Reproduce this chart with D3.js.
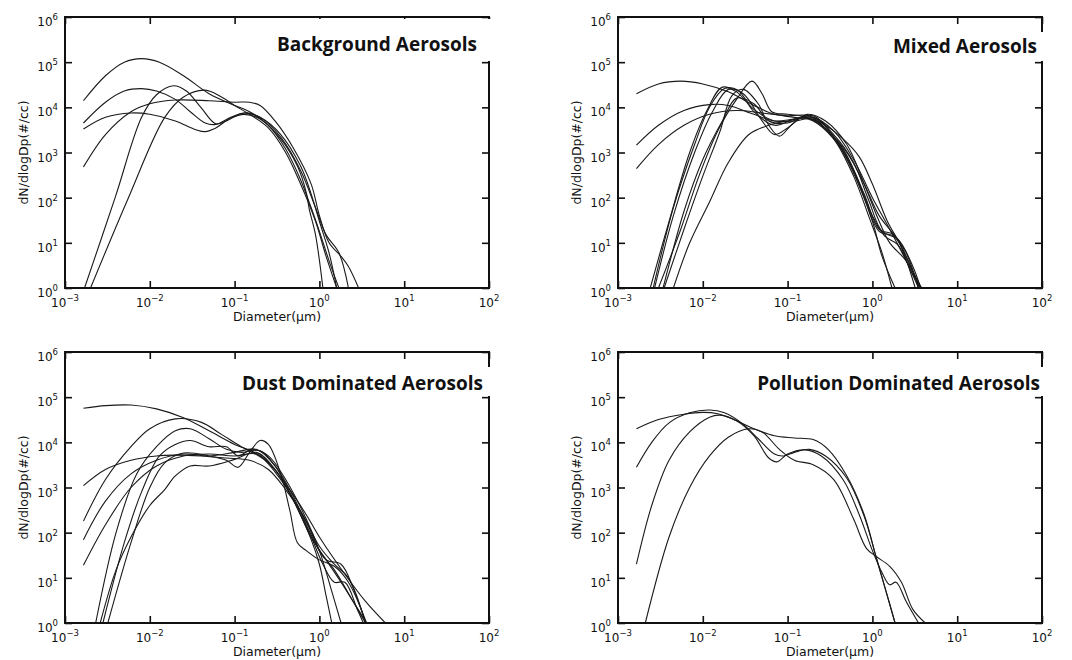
<!DOCTYPE html>
<html>
<head>
<meta charset="utf-8">
<script src="https://cdn.jsdelivr.net/npm/d3@7"></script>
<style>
body { margin: 0; background: #fff; }
svg { display: block; }
</style>
</head>
<body>
<svg width="1072" height="660"></svg>
<script>
// panel titles
var titles = ['Background Aerosols', 'Mixed Aerosols', 'Dust Dominated Aerosols', 'Pollution Dominated Aerosols'];

// tick exponents
var xExp = [-3, -2, -1, 0, 1, 2];
var yExp = [0, 1, 2, 3, 4, 5, 6];

// size distributions, [diameter um, dN/dlogDp]
var background = [
  [[0.00165,1.4e4],[0.003,5e4],[0.005,1e5],[0.008,1.2e5],[0.013,1e5],[0.025,5e4],[0.05,2e4],[0.1,1.1e4],[0.15,8e3],[0.25,4e3],[0.4,1.2e3],[0.6,250],[0.8,60],[1.0,18],[1.3,4],[1.7,1]],
  [[0.00165,4.5e3],[0.003,1.3e4],[0.005,2.3e4],[0.008,2.6e4],[0.012,2.3e4],[0.02,1.5e4],[0.03,8e3],[0.045,4.5e3],[0.06,4.2e3],[0.09,6e3],[0.13,7.5e3],[0.2,6e3],[0.35,2.5e3],[0.6,500],[0.8,120],[1.0,30],[1.3,6],[1.6,1]],
  [[0.00165,3.3e3],[0.003,6e3],[0.006,7.5e3],[0.01,7e3],[0.02,5e3],[0.035,3.2e3],[0.045,2.9e3],[0.06,3.5e3],[0.09,5.8e3],[0.13,7e3],[0.2,5.5e3],[0.35,2e3],[0.55,500],[0.7,130],[0.76,55],[0.9,15],[1.1,1]],
  [[0.00165,480],[0.003,2.5e3],[0.006,8e3],[0.01,1.2e4],[0.02,1.45e4],[0.05,1.4e4],[0.1,1.3e4],[0.15,1.3e4],[0.2,1.1e4],[0.3,5e3],[0.5,1.2e3],[0.8,200],[1.0,40],[1.3,10],[1.8,5],[2.2,3],[2.9,1]],
  [[0.0017,1],[0.0039,100],[0.008,6e3],[0.012,1.9e4],[0.019,3e4],[0.027,2.3e4],[0.04,1e4],[0.06,4.3e3],[0.08,5e3],[0.13,7.5e3],[0.2,6e3],[0.35,2.2e3],[0.6,400],[0.9,60],[1.2,15],[1.7,6],[2.2,1]],
  [[0.0020,1],[0.0056,100],[0.015,6e3],[0.025,1.7e4],[0.045,2.4e4],[0.07,1.7e4],[0.1,1.1e4],[0.15,7e3],[0.25,3.5e3],[0.4,1e3],[0.6,200],[0.9,30],[1.2,5],[1.6,1]]
];

var mixed = [
  [[0.00165,2e4],[0.003,3.3e4],[0.0055,3.8e4],[0.01,3.3e4],[0.02,2.2e4],[0.04,1.1e4],[0.07,7e3],[0.12,6e3],[0.2,5e3],[0.35,2e3],[0.6,400],[1.0,40],[1.4,14],[2,9],[3,2],[3.8,1]],
  [[0.00165,1.45e3],[0.003,4e3],[0.006,8.5e3],[0.012,1.15e4],[0.02,1.1e4],[0.04,7e3],[0.07,5e3],[0.12,5.5e3],[0.2,6e3],[0.35,2.5e3],[0.6,600],[0.9,90],[1.3,18],[2,12],[3,3],[3.7,1]],
  [[0.00165,440],[0.003,1.5e3],[0.006,4e3],[0.012,7e3],[0.025,8.5e3],[0.05,7.5e3],[0.1,6.5e3],[0.18,6.5e3],[0.3,3e3],[0.5,1e3],[0.8,200],[1.2,40],[1.8,15],[2.5,6],[3.5,1]],
  [[0.0024,1],[0.004,30],[0.007,1e3],[0.011,8e3],[0.017,2.8e4],[0.025,2.2e4],[0.04,9e3],[0.07,5e3],[0.12,5e3],[0.2,5.5e3],[0.35,2e3],[0.6,300],[0.9,40],[1.3,6],[1.7,1]],
  [[0.0027,1],[0.0045,40],[0.008,1e3],[0.013,8e3],[0.02,2.5e4],[0.03,2e4],[0.05,5e3],[0.07,2.5e3],[0.1,3.5e3],[0.15,6e3],[0.25,4e3],[0.45,1.2e3],[0.8,120],[1.2,20],[1.8,15],[2.5,5],[3.6,1]],
  [[0.003,1],[0.0055,20],[0.009,300],[0.015,3e3],[0.025,1.5e4],[0.038,3.8e4],[0.05,2e4],[0.065,8e3],[0.1,7e3],[0.17,6e3],[0.3,3e3],[0.5,800],[0.8,100],[1.2,18],[1.8,14],[2.5,5],[3.6,1]],
  [[0.0035,1],[0.006,20],[0.01,300],[0.016,3e3],[0.022,1.8e4],[0.03,2.5e4],[0.045,1.2e4],[0.06,4e3],[0.08,2.3e3],[0.11,4e3],[0.17,7e3],[0.28,5e3],[0.5,1.5e3],[0.8,200],[1.2,30],[1.6,10],[2.5,4],[3.8,1]],
  [[0.0045,1],[0.007,10],[0.012,80],[0.02,600],[0.035,2.5e3],[0.06,4e3],[0.1,5e3],[0.2,6e3],[0.35,3e3],[0.6,700],[1,100],[1.6,20],[2.5,4],[3.5,1]],
  [[0.0034,1],[0.006,50],[0.01,700],[0.017,5e3],[0.025,1.6e4],[0.04,1.2e4],[0.06,5e3],[0.1,4.5e3],[0.15,6e3],[0.25,4.5e3],[0.45,2e3],[0.7,800],[1,200],[1.5,30],[2.2,8],[3.2,1]],
  [[0.0026,1],[0.0045,60],[0.008,1.5e3],[0.012,1e4],[0.018,2.6e4],[0.026,2.4e4],[0.04,8e3],[0.07,4e3],[0.12,5.5e3],[0.2,6.5e3],[0.35,2.2e3],[0.6,350],[1.0,30],[1.3,5],[1.85,1]]
];

var dust = [
  [[0.00165,5.7e4],[0.003,6.5e4],[0.006,6.7e4],[0.012,5.5e4],[0.025,3.5e4],[0.05,1.8e4],[0.1,9e3],[0.15,6.5e3],[0.25,3.5e3],[0.4,1.2e3],[0.7,250],[1.0,80],[2,12],[3.5,3],[6,1]],
  [[0.00165,180],[0.003,1.5e3],[0.006,8e3],[0.01,2e4],[0.02,3.3e4],[0.04,2.8e4],[0.07,1.5e4],[0.12,8e3],[0.2,5e3],[0.35,1.5e3],[0.6,300],[1.0,50],[1.5,20],[2.2,10],[3.5,1]],
  [[0.00165,70],[0.003,500],[0.006,2e3],[0.012,4e3],[0.025,5.5e3],[0.05,5e3],[0.1,6e3],[0.18,7e3],[0.3,3e3],[0.5,600],[0.8,90],[1.2,25],[1.8,20],[2.5,6],[3.5,1]],
  [[0.00165,19],[0.003,150],[0.006,1e3],[0.012,3e3],[0.025,5e3],[0.05,5.5e3],[0.1,5e3],[0.18,5.5e3],[0.3,2.5e3],[0.5,500],[0.8,80],[1.1,20],[1.5,8],[2,8],[2.8,2],[3.3,1]],
  [[0.00165,1.1e3],[0.003,2.5e3],[0.006,4e3],[0.012,5e3],[0.02,5.2e3],[0.04,5e3],[0.08,4.5e3],[0.15,4e3],[0.25,2.5e3],[0.4,900],[0.7,180],[1.0,40],[1.5,15],[2.5,3],[3.5,1]],
  [[0.0023,1],[0.004,100],[0.007,2e3],[0.012,8e3],[0.02,1.8e4],[0.03,2e4],[0.05,1.2e4],[0.08,7e3],[0.12,6e3],[0.2,6.5e3],[0.3,3e3],[0.5,500],[0.8,70],[1.0,20],[1.2,4],[1.4,1]],
  [[0.0028,1],[0.005,60],[0.008,800],[0.013,5e3],[0.02,9e3],[0.03,1.1e4],[0.05,8e3],[0.08,8e3],[0.11,5e3],[0.16,7e3],[0.25,5e3],[0.4,1.5e3],[0.7,200],[1.0,40],[1.4,5],[1.8,1]],
  [[0.0032,1],[0.006,60],[0.01,1e3],[0.015,3.5e3],[0.025,5.8e3],[0.05,5e3],[0.08,4e3],[0.11,2.8e3],[0.15,6e3],[0.2,1.1e4],[0.25,9e3],[0.35,2e3],[0.45,300],[0.55,60],[0.7,40],[1.0,25],[1.5,18],[2.2,8],[3.6,1]],
  [[0.0026,1],[0.004,15],[0.006,80],[0.01,400],[0.015,900],[0.02,1.8e3],[0.03,3e3],[0.05,3e3],[0.1,4.2e3],[0.18,6e3],[0.3,2.5e3],[0.5,500],[0.8,80],[1.2,25],[1.8,8],[2.5,3],[3.6,1]]
];

var pollution = [
  [[0.00165,2e4],[0.003,3.2e4],[0.006,4.2e4],[0.01,4.6e4],[0.015,4.3e4],[0.025,3e4],[0.04,2e4],[0.07,1.4e4],[0.12,1.25e4],[0.2,1.15e4],[0.3,7e3],[0.5,1.8e3],[0.8,250],[1.1,30],[1.5,4],[1.85,1]],
  [[0.00165,2.8e3],[0.0025,1e4],[0.004,2.7e4],[0.007,4.5e4],[0.012,5.2e4],[0.018,4.5e4],[0.03,2.5e4],[0.045,1.2e4],[0.07,5.5e3],[0.09,5e3],[0.12,6e3],[0.18,7e3],[0.28,5e3],[0.5,1.6e3],[0.8,230],[1.1,30],[1.5,4],[1.85,1]],
  [[0.00165,20],[0.0025,400],[0.004,4e3],[0.007,1.7e4],[0.012,3.6e4],[0.016,4e4],[0.025,3e4],[0.04,1.4e4],[0.06,4.5e3],[0.075,3.7e3],[0.1,5.5e3],[0.16,6.8e3],[0.25,5e3],[0.45,1.5e3],[0.7,250],[1.0,40],[1.3,13],[1.6,7],[1.9,8],[2.5,3],[3.5,1]],
  [[0.0021,1],[0.004,80],[0.007,1e3],[0.012,5e3],[0.02,1.3e4],[0.035,2e4],[0.05,1.7e4],[0.08,7e3],[0.12,4e3],[0.2,3.2e3],[0.35,1.5e3],[0.6,200],[0.85,45],[1.1,30],[1.6,18],[2.2,8],[3,2],[4.2,1]]
];

var panelData = [background, mixed, dust, pollution];
var panelPos = [[65, 17], [618, 17], [65, 352], [618, 352]];
var pw = 424, ph = 271;
// title placement: right inset, baseline, box top
var titleRight = [12, 5, 6, 2];
var titleBase = [34, 36, 38, 38];
var boxTop = [2, 15, 15, 15];

var svgctrl = d3.select('svg');
var font = 'DejaVu Sans, sans-serif';

panelData.forEach(function (curves, i) {
  var ox = panelPos[i][0], oy = panelPos[i][1];
  var g = svgctrl.append('g').attr('transform', 'translate(' + ox + ',' + oy + ')');

  var x = d3.scaleLog().domain([1e-3, 1e2]).range([0, pw]);
  var y = d3.scaleLog().domain([1, 1e6]).range([ph, 0]);

  g.append('clipPath').attr('id', 'clip' + i)
    .append('rect').attr('width', pw).attr('height', ph);

  var line = d3.line()
    .x(function (d) { return x(d[0]); })
    .y(function (d) { return y(d[1]); })
    .curve(d3.curveCatmullRom.alpha(0.5));

  g.append('g').attr('clip-path', 'url(#clip' + i + ')')
    .selectAll('path').data(curves).enter().append('path')
    .attr('d', line).attr('fill', 'none').attr('stroke', '#1a1a1a').attr('stroke-width', 1.1);

  // inward ticks on all four sides
  var xt = xExp.map(function (e) { return Math.pow(10, e); });
  var yt = yExp.map(function (e) { return Math.pow(10, e); });
  g.append('g').call(d3.axisBottom(x).tickValues(xt).tickSize(-7).tickFormat(''))
    .attr('transform', 'translate(0,' + ph + ')');
  g.append('g').call(d3.axisTop(x).tickValues(xt).tickSize(-7).tickFormat(''));
  g.append('g').call(d3.axisLeft(y).tickValues(yt).tickSize(-7).tickFormat(''));
  g.append('g').call(d3.axisRight(y).tickValues(yt).tickSize(-7).tickFormat(''))
    .attr('transform', 'translate(' + pw + ',0)');
  g.selectAll('.domain').remove();
  g.selectAll('.tick line').attr('stroke', '#111').attr('stroke-width', 1.6);

  g.append('rect').attr('width', pw).attr('height', ph)
    .attr('fill', 'none').attr('stroke', '#111').attr('stroke-width', 2);

  // tick labels
  xExp.forEach(function (e) {
    var t = g.append('text').attr('x', x(Math.pow(10, e))).attr('y', ph + 19)
      .attr('text-anchor', 'middle').attr('font-family', font).attr('font-size', 12).attr('fill', '#111');
    t.append('tspan').text('10');
    t.append('tspan').attr('dy', -6).attr('font-size', 8.5).text(e < 0 ? '\u2212' + (-e) : e);
  });
  yExp.forEach(function (e) {
    var t = g.append('text').attr('x', -7).attr('y', y(Math.pow(10, e)) + 9)
      .attr('text-anchor', 'end').attr('font-family', font).attr('font-size', 12).attr('fill', '#111');
    t.append('tspan').text('10');
    t.append('tspan').attr('dy', -6).attr('font-size', 8.5).text(e);
  });

  g.append('text').attr('x', pw / 2).attr('y', ph + 33)
    .attr('text-anchor', 'middle').attr('font-family', font).attr('font-size', 12.5).attr('fill', '#111')
    .text('Diameter(\u03bcm)');
  g.append('text').attr('transform', 'translate(-37,' + (ph / 2) + ') rotate(-90)')
    .attr('text-anchor', 'middle').attr('font-family', font).attr('font-size', 12.5).attr('fill', '#111')
    .text('dN/dlogDp(#/cc)');

  // title in a white box
  var box = g.append('rect').attr('fill', '#fff');
  var tt = g.append('text').attr('x', pw - titleRight[i]).attr('y', titleBase[i])
    .attr('text-anchor', 'end').attr('font-family', 'Open Sans, sans-serif').attr('font-weight', 700)
    .attr('font-size', 19).attr('fill', '#111').text(titles[i]);
  var bb = tt.node().getBBox();
  box.attr('x', bb.x - 4).attr('y', boxTop[i]).attr('width', pw + 3 - (bb.x - 4)).attr('height', 44 - boxTop[i]);
});
</script>
</body>
</html>
